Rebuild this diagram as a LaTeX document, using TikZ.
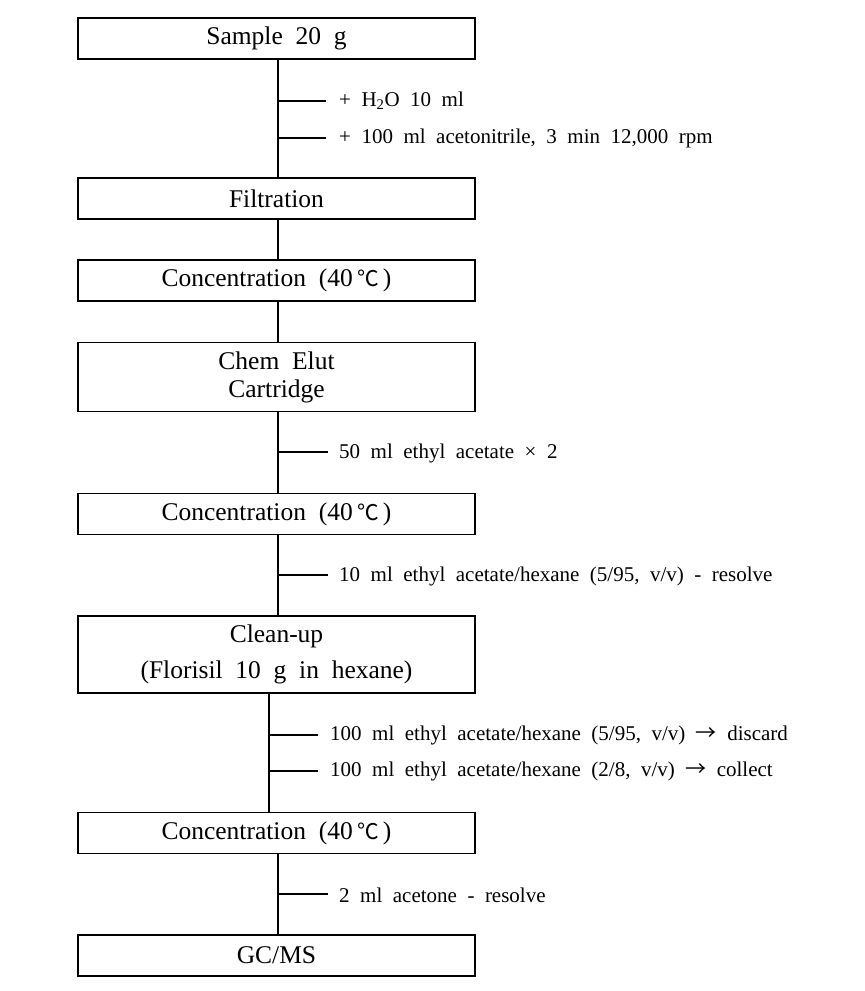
\documentclass[tikz,border=0pt]{standalone}
\usepackage{fontspec}
\setmainfont[WordSpace={2.0,1.5,1}]{Liberation Serif}
\newfontfamily\cjkf{Noto Sans CJK KR}
\newcommand{\degc}{\,{\cjkf\fontsize{0.85em}{1em}\selectfont ℃}\,}
\newcommand{\rarr}{{\cjkf →}}
\begin{document}
\begin{tikzpicture}[x=1pt,y=-1pt,
  box/.style={draw, line width=1.1pt, minimum width=397pt, minimum height=41pt, inner sep=0pt, align=center, font=\fontsize{25.5}{30}\selectfont},
  lbl/.style={anchor=west, inner sep=0pt, font=\fontsize{21}{24}\selectfont},
  conn/.style={line width=1.1pt},
  tick/.style={line width=1.1pt}]
\useasboundingbox (0,0) rectangle (865,991);
\node[box] (s) at (276.5,38.5) {Sample 20 g};
\node[box] (f) at (276.5,198.5) {Filtration};
\node[box] (c1) at (276.5,280.5) {Concentration (40\degc)};
\node[box, minimum height=69pt, font=\fontsize{25.5}{28}\selectfont] (ce) at (276.5,377) {Chem Elut\\Cartridge};
\node[box] (c2) at (276.5,514) {Concentration (40\degc)};
\node[box, minimum height=77pt, font=\fontsize{25.5}{36}\selectfont] (cu) at (276.5,654.5) {Clean-up\\(Florisil 10 g in hexane)};
\node[box] (c3) at (276.5,833) {Concentration (40\degc)};
\node[box] (gc) at (276.5,955.5) {GC/MS};

\coordinate (va) at (278,0);
\coordinate (vb) at (269,0);
\draw[conn] (s.south -| va) -- (f.north -| va);
\draw[conn] (f.south -| va) -- (c1.north -| va);
\draw[conn] (c1.south -| va) -- (ce.north -| va);
\draw[conn] (ce.south -| va) -- (c2.north -| va);
\draw[conn] (c2.south -| va) -- (cu.north -| va);
\draw[conn] (cu.south -| vb) -- (c3.north -| vb);
\draw[conn] (c3.south -| va) -- (gc.north -| va);

\coordinate (t1) at (278,101);
\coordinate (t2) at (278,138);
\coordinate (t3) at (278,452);
\coordinate (t4) at (278,575);
\coordinate (t5) at (269,735);
\coordinate (t6) at (269,771);
\coordinate (t7) at (278,894);
\draw[tick] (t1) -- ++(48,0) coordinate (e1);
\draw[tick] (t2) -- ++(48,0) coordinate (e2);
\draw[tick] (t3) -- ++(50,0) coordinate (e3);
\draw[tick] (t4) -- ++(50,0) coordinate (e4);
\draw[tick] (t5) -- ++(49,0) coordinate (e5);
\draw[tick] (t6) -- ++(49,0) coordinate (e6);
\draw[tick] (t7) -- ++(50,0) coordinate (e7);
\node[lbl] (l1) at (339,101) {+ H\textsubscript{2}O 10 ml};
\node[lbl] (l2) at (339,138) {+ 100 ml acetonitrile, 3 min 12,000 rpm};
\node[lbl] (l3) at (339,453) {50 ml ethyl acetate × 2};
\node[lbl] (l4) at (339,576) {10 ml ethyl acetate/hexane (5/95, v/v) - resolve};
\node[lbl] (l5) at (330,735) {100 ml ethyl acetate/hexane (5/95, v/v) \rarr{} discard};
\node[lbl] (l6) at (330,771) {100 ml ethyl acetate/hexane (2/8, v/v) \rarr{} collect};
\node[lbl] (l7) at (339,895) {2 ml acetone - resolve};
\end{tikzpicture}
\end{document}
